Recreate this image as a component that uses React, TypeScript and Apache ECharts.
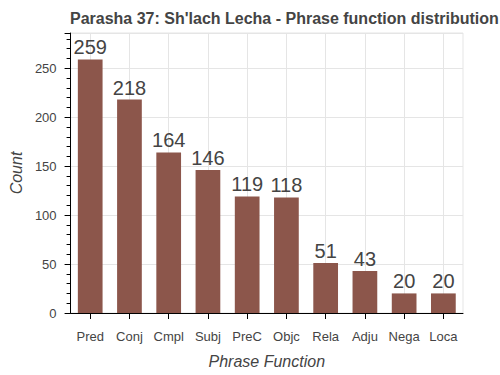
import React, { useEffect, useRef } from "react";
import * as echarts from "echarts";

const categories = ["Pred", "Conj", "Cmpl", "Subj", "PreC", "Objc", "Rela", "Adju", "Nega", "Loca"];
const counts = [259, 218, 164, 146, 119, 118, 51, 43, 20, 20];
const titleText = "Parasha 37: Sh'lach Lecha - Phrase function distribution";
const xTitle = "Phrase Function";
const yTitle = "Count";

const FONT = "'Liberation Sans', Arial, Helvetica, sans-serif";

export default function App() {
  const ref = useRef<HTMLDivElement>(null);
  useEffect(() => {
    if (!ref.current) return;
    const chart = echarts.init(ref.current, null, { renderer: "svg" });
    chart.setOption({
      animation: false,
      backgroundColor: "#ffffff",
      title: {
        text: titleText,
        left: 65,
        top: 5,
        textStyle: { fontFamily: FONT, fontSize: 16, fontWeight: "bold", color: "#444444" },
      },
      grid: {
        left: 69,
        right: 37,
        top: 33,
        bottom: 62,
        show: true,
        borderColor: "#e5e5e5",
        borderWidth: 1,
        backgroundColor: "transparent",
      },
      xAxis: {
        type: "category",
        data: categories,
        name: xTitle,
        nameLocation: "middle",
        nameGap: 40,
        nameTextStyle: { fontFamily: FONT, fontSize: 16, fontStyle: "italic", color: "#444444" },
        axisLine: { lineStyle: { color: "#000000", width: 1 } },
        axisTick: { show: true, interval: 0, alignWithLabel: true, length: 6, lineStyle: { color: "#000000" } },
        axisLabel: { interval: 0, fontFamily: FONT, fontSize: 13, color: "#444444", margin: 17 },
        splitLine: { show: false },
      },
      yAxis: {
        type: "value",
        min: 0,
        max: 286,
        interval: 50,
        name: yTitle,
        nameLocation: "middle",
        nameGap: 46,
        nameTextStyle: { fontFamily: FONT, fontSize: 16, fontStyle: "italic", color: "#444444" },
        axisLine: { show: true, lineStyle: { color: "#000000", width: 1 } },
        axisTick: { show: true, length: 6, lineStyle: { color: "#000000" } },
        minorTick: { show: true, splitNumber: 5, length: 4, lineStyle: { color: "#000000" } },
        axisLabel: {
          fontFamily: FONT,
          fontSize: 13,
          color: "#444444",
          margin: 14,
          formatter: (v: number) => (v % 50 === 0 ? String(v) : ""),
        },
        splitLine: { show: true, lineStyle: { color: "#e5e5e5", width: 1 } },
      },
      series: [
        {
          type: "line",
          data: [],
          z: 1,
          silent: true,
          markLine: {
            silent: true,
            z: 1,
            symbol: "none",
            label: { show: false },
            lineStyle: { color: "#e5e5e5", width: 1, type: "solid" },
            data: categories.map((c) => ({ xAxis: c })),
          },
        },
        {
          type: "bar",
          data: counts,
          z: 3,
          barWidth: "63%",
          itemStyle: { color: "#8c564b" },
          label: {
            show: true,
            position: "top",
            distance: 2,
            fontFamily: FONT,
            fontSize: 20,
            color: "#444444",
          },
        },
      ],
    });
    return () => chart.dispose();
  }, []);
  return <div ref={ref} style={{ width: 500, height: 375, position: "absolute", left: 0, top: 0 }} />;
}
